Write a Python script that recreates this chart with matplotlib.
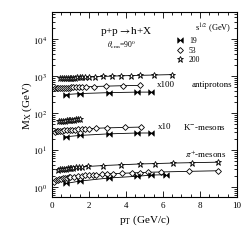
import matplotlib
matplotlib.use("Agg")
import matplotlib.pyplot as plt
import numpy as np
from matplotlib.ticker import MultipleLocator, LogLocator, NullFormatter

plt.rcParams['font.family'] = ['Liberation Serif', 'DejaVu Serif']
plt.rcParams['mathtext.fontset'] = 'stix'

# ---- data (M_X values as plotted, incl. multipliers) ----
# antiprotons (x100)
pbar_200_pt = [0.45, 0.55, 0.65, 0.75, 0.85, 0.95, 1.05, 1.15, 1.25, 1.35, 1.5, 1.65, 1.8, 2.0, 2.3, 2.75, 3.25, 3.75, 4.25, 4.75, 5.5, 6.5]
pbar_200_m = [880, 890, 895, 900, 905, 910, 915, 920, 925, 930, 935, 940, 950, 960, 975, 990, 1010, 1030, 1045, 1060, 1080, 1110]
pbar_53_pt = [0.15, 0.25, 0.35, 0.45, 0.55, 0.65, 0.75, 0.85, 0.95, 1.05, 1.15, 1.3, 1.45, 1.6, 1.85, 2.27, 2.94, 3.84, 4.78]
pbar_53_m = [470, 475, 478, 480, 483, 486, 489, 492, 495, 498, 500, 505, 508, 512, 518, 528, 540, 555, 565]
pbar_19_pt = [0.77, 1.54, 3.08, 4.61, 5.38]
pbar_19_m = [320, 340, 360, 372, 372]

# K- mesons (x10)
k_200_pt = [0.4, 0.5, 0.6, 0.7, 0.8, 0.9, 1.0, 1.1, 1.2, 1.3, 1.4, 1.5]
k_200_m = [60, 61, 62, 63, 64, 64.5, 65, 66, 67, 67.5, 68, 69]
k_53_pt = [0.15, 0.25, 0.35, 0.45, 0.55, 0.65, 0.8, 0.95, 1.1, 1.25, 1.4, 1.6, 1.8, 2.0, 2.4, 2.97, 3.93, 4.83]
k_53_m = [31, 32, 32.5, 33, 33.5, 34, 34.5, 35, 35.5, 36, 36.5, 37, 37.5, 38, 39, 40, 41, 42]
k_19_pt = [0.77, 1.54, 3.08, 4.61, 5.38]
k_19_m = [23, 25, 27.5, 29, 29]

# pi+ mesons
pi_200_pt = [0.35, 0.45, 0.55, 0.65, 0.75, 0.85, 0.95, 1.05, 1.15, 1.3, 1.45, 1.6, 1.95, 2.75, 3.75, 4.75, 5.55, 6.55, 7.55, 9.0]
pi_200_m = [2.9, 3.0, 3.05, 3.1, 3.15, 3.2, 3.25, 3.3, 3.35, 3.4, 3.45, 3.5, 3.6, 3.8, 4.0, 4.2, 4.3, 4.45, 4.55, 4.7]
pi_53_pt = [0.1, 0.2, 0.3, 0.4, 0.5, 0.6, 0.7, 0.8, 0.9, 1.0, 1.2, 1.4, 1.6, 1.8, 2.0, 2.2, 2.4, 2.7, 3.0, 3.3, 3.8, 4.3, 4.75, 5.2, 5.9, 7.4, 9.0]
pi_53_m = [1.4, 1.5, 1.55, 1.6, 1.65, 1.7, 1.75, 1.78, 1.82, 1.85, 1.9, 1.95, 2.0, 2.05, 2.1, 2.12, 2.15, 2.2, 2.25, 2.3, 2.35, 2.4, 2.45, 2.5, 2.55, 2.65, 2.75]
pi_19_pt = [0.77, 1.54, 3.08, 4.61, 5.38, 6.15]
pi_19_m = [1.25, 1.45, 1.75, 1.95, 2.1, 2.15]

xticks = [0, 2, 4, 6, 8, 10]
yticks = [1, 10, 100, 1000, 10000]
ytick_labels = [r'$10^{0}$', r'$10^{1}$', r'$10^{2}$', r'$10^{3}$', r'$10^{4}$']

# bowtie marker
bowtie = [(-1, 1), (0, 0), (1, 1), (1, -1), (0, 0), (-1, -1), (-1, 1)]

fig = plt.figure(figsize=(2.51, 2.51), dpi=100)
ax = fig.add_axes([0.207, 0.213, 0.737, 0.735])

lw = 0.6
def cross(x, y):
    ax.plot(x, y, '-', color='black', lw=lw, marker=bowtie, ms=4, mfc='black', mec='black', mew=0.4)
def diam(x, y):
    ax.plot(x, y, '-', color='black', lw=lw, marker='D', ms=3, mfc='white', mec='black', mew=0.6)
def star(x, y):
    ax.plot(x, y, '-', color='black', lw=lw, marker='*', ms=5, mfc='white', mec='black', mew=0.6)

star(pbar_200_pt, pbar_200_m)
diam(pbar_53_pt, pbar_53_m)
cross(pbar_19_pt, pbar_19_m)
star(k_200_pt, k_200_m)
diam(k_53_pt, k_53_m)
cross(k_19_pt, k_19_m)
star(pi_200_pt, pi_200_m)
diam(pi_53_pt, pi_53_m)
cross(pi_19_pt, pi_19_m)

ax.set_yscale('log')
ax.set_xlim(0, 10)
ax.set_ylim(0.55, 5.5e4)
ax.set_xticks(xticks)
ax.set_xticklabels([str(t) for t in xticks])
ax.xaxis.set_minor_locator(MultipleLocator(0.5))
ax.set_yticks(yticks)
ax.set_yticklabels(ytick_labels)
ax.yaxis.set_minor_locator(LogLocator(base=10, subs=np.arange(2, 10)))
ax.yaxis.set_minor_formatter(NullFormatter())
ax.tick_params(which='both', direction='in', top=True, right=True, labelsize=6.5, width=0.6)
ax.tick_params(which='major', length=4)
ax.tick_params(which='minor', length=2)
for s in ax.spines.values():
    s.set_linewidth(0.8)

ax.set_xlabel(r'p$_{\rm T}$ (GeV/c)', fontsize=8, labelpad=2)
ax.set_ylabel(r'M$_{\rm X}$ (GeV)', fontsize=8, labelpad=-1)

T = ax.transAxes
ax.text(0.404, 0.90, r'p+p$\rightarrow$h+X', transform=T, fontsize=8, ha='center', va='center')
ax.text(0.375, 0.828, r'$\theta_{\rm cms}$=90$^0$', transform=T, fontsize=5.5, ha='center', va='center')
ax.text(0.87, 0.917, r's$^{1/2}$ (GeV)', transform=T, fontsize=6, ha='center', va='center')
leg = [('19', 0.848, 'cross'), ('53', 0.795, 'diam'), ('200', 0.745, 'star')]
for lab, yy, kind in leg:
    if kind == 'cross':
        ax.plot([0.69], [yy], transform=T, marker=bowtie, ms=4, color='black', mew=0.4, ls='none')
    elif kind == 'diam':
        ax.plot([0.69], [yy], transform=T, marker='D', ms=3, mfc='white', mec='black', mew=0.6, ls='none')
    else:
        ax.plot([0.69], [yy], transform=T, marker='*', ms=5, mfc='white', mec='black', mew=0.6, ls='none')
    ax.text(0.74, yy, lab, transform=T, fontsize=5.5, ha='left', va='center')

ax.text(0.615, 0.61, 'x100', transform=T, fontsize=6.5, ha='center', va='center')
ax.text(0.975, 0.61, 'antiprotons', transform=T, fontsize=6.5, ha='right', va='center')
ax.text(0.61, 0.383, 'x10', transform=T, fontsize=6.5, ha='center', va='center')
ax.text(0.943, 0.383, r'K$^{-}$-mesons', transform=T, fontsize=6.5, ha='right', va='center')
ax.text(0.943, 0.235, r'$\pi^{+}$-mesons', transform=T, fontsize=6.5, ha='right', va='center')

fig.savefig('out.png', dpi=100)
